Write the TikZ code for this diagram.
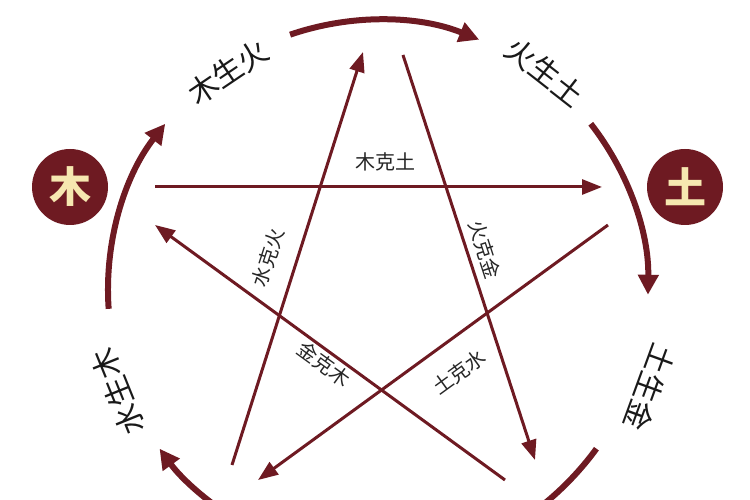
\documentclass[tikz,border=0pt]{standalone}
\usepackage{fontspec}
\newfontfamily\cjk{Noto Sans CJK SC}
\usetikzlibrary{arrows.meta,calc}
\definecolor{wx}{HTML}{6E1A22}
\definecolor{cream}{HTML}{F6E7B0}
\begin{document}
\begin{tikzpicture}[x=1pt,y=1pt,
  star/.style={draw=wx,line width=3pt,-{Triangle[length=20pt,width=15pt]}},
  ring/.style={draw=wx,line width=6pt,-{Triangle[length=20pt,width=20pt]}},
  slab/.style={font=\cjk\fontsize{20}{20}\selectfont,text=black!85,inner sep=1pt},
  rlab/.style={font=\cjk\fontsize{30}{30}\selectfont,text=black!90,inner sep=1pt},
  elem/.style={circle,fill=wx,minimum size=76pt,inner sep=0pt,text=cream,font=\cjk\bfseries\fontsize{42}{42}\selectfont}]
\useasboundingbox (0,0) rectangle (750,500);
\clip (0,0) rectangle (750,500);
\node[elem] (mu) at (70,313) {木};
\node[elem] (tu) at (685,313) {土};
\coordinate (A) at (155,313); \coordinate (B) at (602,313);
\coordinate (C) at (232,35);  \coordinate (D) at (363,448);
\coordinate (E) at (403,445); \coordinate (F) at (535,40);
\coordinate (G) at (505,20);  \coordinate (H) at (155,275);
\coordinate (I) at (608,275); \coordinate (J) at (258,20);
\draw[star] (A) -- (B);
\draw[star] (C) -- (D);
\draw[star] (E) -- (F);
\draw[star] (G) -- (H);
\draw[star] (I) -- (J);
\node[slab] (l1) at (385,338) {木克土};
\node[slab,rotate=72] (l2) at (268,242) {水克火};
\node[slab,rotate=-72] (l3) at (485,250) {火克金};
\node[slab,rotate=-36] (l4) at (324,136) {金克木};
\node[slab,rotate=36] (l5) at (459,128) {土克水};
\coordinate (O) at (378,210);
\draw[ring] ($(O)+(109:270)$) arc (109:68:270);
\draw[ring] ($(O)+(38:270)$) arc (38:-1:270);
\draw[ring] ($(O)+(-36:270)$) arc (-36:-65:270);
\draw[ring] ($(O)+(240:270)$) arc (240:216:270);
\draw[ring] ($(O)+(184:270)$) arc (184:142:270);
\node[rlab,rotate=34] (r1) at (228,428) {木生火};
\node[rlab,rotate=-38] (r2) at (545,428) {火生土};
\node[rlab,rotate=-110] (r3) at (650,112) {土生金};
\node[rlab,rotate=112] (r4) at (118,108) {水生木};
\end{tikzpicture}
\end{document}
